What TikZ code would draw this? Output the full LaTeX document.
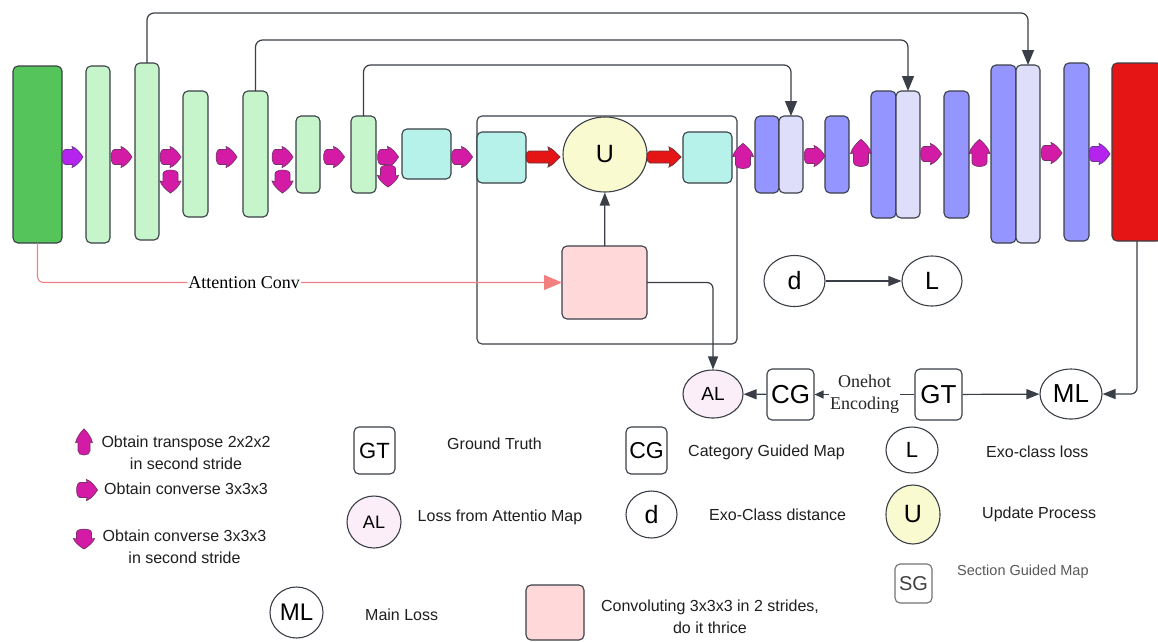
\documentclass[tikz,border=0pt]{standalone}
\usepackage{fontspec}
\setmainfont{Liberation Sans}
\newfontfamily\serifx{Liberation Serif}
\usetikzlibrary{arrows.meta,shapes.geometric}
\definecolor{dgreen}{HTML}{55C45A}
\definecolor{lgreen}{HTML}{C6F5CC}
\definecolor{cyanb}{HTML}{B6F2EA}
\definecolor{pdark}{HTML}{9595FF}
\definecolor{plight}{HTML}{DEDEFA}
\definecolor{redb}{HTML}{E51515}
\definecolor{yell}{HTML}{FAFAD0}
\definecolor{pinkb}{HTML}{FFD9D9}
\definecolor{alpink}{HTML}{FCEEF8}
\definecolor{mag}{HTML}{D41BA5}
\definecolor{purp}{HTML}{B424EE}
\definecolor{salmon}{HTML}{F28080}
\definecolor{edgec}{HTML}{3A3F47}
\newcommand\rbox[6]{\node[#2, minimum width={(#5)-(#3)}, minimum height={(#6)-(#4)}] (#1) at ({((#3)+(#5))/2},{((#4)+(#6))/2}) {};}
\begin{document}
\begin{tikzpicture}[x=1pt,y=-1pt,
  bar/.style={draw=edgec, line width=1.1pt, rounded corners=5pt, inner sep=0pt, outer sep=0pt},
  lbox/.style={draw=edgec, line width=1.1pt, rounded corners=5pt, inner sep=0pt, fill=white},
  ell/.style={ellipse, draw=edgec, line width=1.1pt, inner sep=0pt, fill=white},
  conn/.style={draw=edgec, line width=1.2pt, -{Triangle[length=13pt,width=10pt]}, rounded corners=6pt},
  skip/.style={draw=edgec, line width=1.2pt, -{Triangle[length=15pt,width=12pt]}, rounded corners=7pt},
  legtxt/.style={font=\fontsize{16}{22}\selectfont, text=black!88, inner sep=0pt},
  big/.style={font=\fontsize{25}{27}\selectfont},
  arrm/.style={fill=mag, draw=edgec!60!mag, line width=0.7pt},
  arrp/.style={fill=purp, draw=edgec!60!purp, line width=0.7pt},
  arrr/.style={fill=redb, draw=edgec!70!redb, line width=0.8pt},
  fatarr/.pic={\path[pic actions] (-7,-7.5) -- (0,-7.5) .. controls (0,-9) .. (-0.5,-10.5) .. controls (4,-9) and (8,-4) .. (10.5,0) .. controls (8,4) and (4,9) .. (-0.5,10.5) .. controls (0,9) .. (0,7.5) -- (-7,7.5) .. controls (-11.5,7.5) and (-11.5,-7.5) .. (-7,-7.5) -- cycle;},
  redarr/.pic={\path[pic actions] (-14,-6) -- (6,-6) -- (5,-10) .. controls (10,-8) and (14,-3) .. (17,0) .. controls (14,3) and (10,8) .. (5,10) -- (6,6) -- (-14,6) .. controls (-18,6) and (-18,-6) .. (-14,-6) -- cycle;}
]
\fill[white] (0,0) rectangle (1158,641);
\useasboundingbox (0,0) rectangle (1158,641);

% ---------- encoder ----------
\rbox{g0}{bar,fill=dgreen}{13}{66}{62}{243}
\rbox{b1}{bar,fill=lgreen}{86}{66}{110}{243}
\rbox{b2}{bar,fill=lgreen}{135}{63}{159}{240}
\rbox{b3}{bar,fill=lgreen}{183}{91}{208}{217}
\rbox{b4}{bar,fill=lgreen}{243}{91}{268}{217}
\rbox{b5}{bar,fill=lgreen}{296}{116}{320}{193}
\rbox{b6}{bar,fill=lgreen}{351}{116}{376}{193}
\rbox{c1}{bar,fill=cyanb}{402}{129}{451}{179}

% ---------- update block ----------
\rbox{frame}{bar}{477}{116}{737}{344}
\rbox{c2}{bar,fill=cyanb}{477}{132}{526}{183}
\node[ell, fill=yell, minimum width=84, minimum height=75, big] (U) at (605,154.5) {U};
\rbox{c3}{bar,fill=cyanb}{683}{132}{732}{183}
\rbox{pink}{bar,fill=pinkb}{562}{246}{647}{319}

% ---------- decoder ----------
\rbox{p1d}{bar,fill=pdark}{755}{116}{779}{193}
\rbox{p1l}{bar,fill=plight}{779}{116}{803}{193}
\rbox{p2}{bar,fill=pdark}{825}{116}{849}{193}
\rbox{p3d}{bar,fill=pdark}{871}{91}{896}{218}
\rbox{p3l}{bar,fill=plight}{896}{91}{920}{218}
\rbox{p4}{bar,fill=pdark}{944}{91}{969}{218}
\rbox{p5d}{bar,fill=pdark}{991}{65}{1016}{243}
\rbox{p5l}{bar,fill=plight}{1016}{65}{1040}{243}
\rbox{p6}{bar,fill=pdark}{1064}{63}{1089}{241}
\rbox{red}{bar,fill=redb}{1112}{63}{1162}{241}

% ---------- operation arrows ----------
\pic[arrp] at (72.5,157) {fatarr};
\pic[arrm] at (121.5,157) {fatarr};
\pic[arrm] at (170.5,157) {fatarr};
\pic[arrm,rotate=-90,xscale=1.1] at (170.5,181.5) {fatarr};
\pic[arrm] at (226.5,157) {fatarr};
\pic[arrm] at (282.5,157) {fatarr};
\pic[arrm,rotate=-90,xscale=1.1] at (282.5,181.5) {fatarr};
\pic[arrm] at (334,157) {fatarr};
\pic[arrm] at (388,157) {fatarr};
\pic[arrm,rotate=-90,xscale=1.05] at (388,176) {fatarr};
\pic[arrm] at (462,157) {fatarr};
\pic[arrr] at (543,157) {redarr};
\pic[arrr] at (664,157) {redarr};
\pic[arrm,rotate=90,xscale=1.2] at (743,156) {fatarr};
\pic[arrm] at (814.5,156) {fatarr};
\pic[arrm,rotate=90,xscale=1.3] at (861,153) {fatarr};
\pic[arrm] at (931,154) {fatarr};
\pic[arrm,rotate=90,xscale=1.3] at (979.5,153) {fatarr};
\pic[arrm] at (1051.5,153) {fatarr};
\pic[arrp] at (1099.5,154) {fatarr};

% ---------- skip connections ----------
\draw[skip] (b2.north) -- ++(0,-50) -| (p5l.north);
\draw[skip] (b4.north) -- ++(0,-51) -| (p3l.north);
\draw[skip] (b6.north) -- ++(0,-51) -| (p1l.north);

% ---------- loss part ----------
\node[ell, minimum width=61, minimum height=51, big] (d) at (794.5,281) {d};
\node[ell, minimum width=60, minimum height=50, big] (L) at (932,281) {L};
\node[ell, fill=alpink, minimum width=60, minimum height=48, font=\fontsize{19}{21}\selectfont] (AL) at (713,394) {AL};
\node[lbox, minimum width=47, minimum height=51, font=\fontsize{26}{28}\selectfont] (CG) at (790.5,394.5) {CG};
\node[lbox, minimum width=47, minimum height=51, font=\fontsize{26}{28}\selectfont] (GT) at (938.5,394.5) {GT};
\node[ell, minimum width=62, minimum height=50, font=\fontsize{26}{28}\selectfont] (ML) at (1071,394) {ML};

\draw[salmon, line width=1.1pt, rounded corners=6pt, -{Triangle[length=18pt,width=15pt]}] (g0.south) |- node[pos=0.697, fill=white, inner sep=1pt, text=black, font=\serifx\fontsize{18}{20}\selectfont] {Attention Conv} (pink.west);
\draw[conn] (pink) -- (U);
\draw[conn] (pink.east) -| (AL.north);
\draw[conn] (d) -- (L);
\draw[conn] (red.south) |- (ML.east);
\draw[conn] (GT) -- (ML);
\draw[draw=edgec, line width=1.2pt, -{Triangle[length=9pt,width=8pt]}] (GT) -- node[fill=white, inner sep=1pt, align=center, text=black!85, font=\serifx\fontsize{18}{22}\selectfont] {Onehot\\Encoding} (CG);
\draw[conn] (CG) -- (AL);

% ---------- legend ----------
\pic[arrm,rotate=90,xscale=1.25,yscale=0.8] at (84,442) {fatarr};
\node[legtxt, align=center] (t1) at (186,453) {Obtain transpose 2x2x2\\in second stride};
\pic[arrm] at (87,490) {fatarr};
\node[legtxt, anchor=west] (t2) at (104,489) {Obtain converse 3x3x3};
\pic[arrm,rotate=-90,xscale=0.95] at (84,539) {fatarr};
\node[legtxt, align=center] (t3) at (184.5,546.5) {Obtain converse 3x3x3\\in second stride};

\node[lbox, minimum width=41, minimum height=47, font=\fontsize{22}{24}\selectfont] (lgt) at (374.5,450.5) {GT};
\node[legtxt] (tgt) at (494.5,444) {Ground Truth};
\node[ell, fill=alpink, minimum width=54, minimum height=52, font=\fontsize{18}{20}\selectfont] (lal) at (374,522) {AL};
\node[legtxt] (tal) at (500,517) {Loss from Attentio Map};
\node[ell, minimum width=53, minimum height=51, font=\fontsize{24}{26}\selectfont] (lml) at (296.5,612.5) {ML};
\node[legtxt, anchor=west] (tml) at (365,615) {Main Loss};
\rbox{lpink}{bar,fill=pinkb}{526}{585}{584}{640}
\node[legtxt, align=center] (tpink) at (710,616.5) {Convoluting 3x3x3 in 2 strides,\\do it thrice};

\node[lbox, minimum width=41, minimum height=47, font=\fontsize{23}{25}\selectfont] (lcg) at (646.5,450.5) {CG};
\node[legtxt, anchor=west] (tcg) at (688,452) {Category Guided Map};
\node[ell, minimum width=51, minimum height=47, big] (ld) at (651.5,514.5) {d};
\node[legtxt, anchor=west] (td) at (709,515) {Exo-Class distance};
\node[ell, minimum width=52, minimum height=46, font=\fontsize{22}{24}\selectfont] (lL) at (912,450) {L};
\node[legtxt, anchor=west] (tL) at (986,452) {Exo-class loss};
\node[ell, fill=yell, minimum width=54, minimum height=59, big] (lU) at (913,514.5) {U};
\node[legtxt, anchor=west] (tU) at (982,514) {Update Process};
\node[lbox, draw=black!55, minimum width=37, minimum height=39, text=black!75, font=\fontsize{20}{22}\selectfont] (lsg) at (913.5,583.5) {SG};
\node[legtxt, anchor=west, text=black!65, font=\fontsize{14.5}{17}\selectfont] (tsg) at (957,572) {Section Guided Map};
\end{tikzpicture}
\end{document}
